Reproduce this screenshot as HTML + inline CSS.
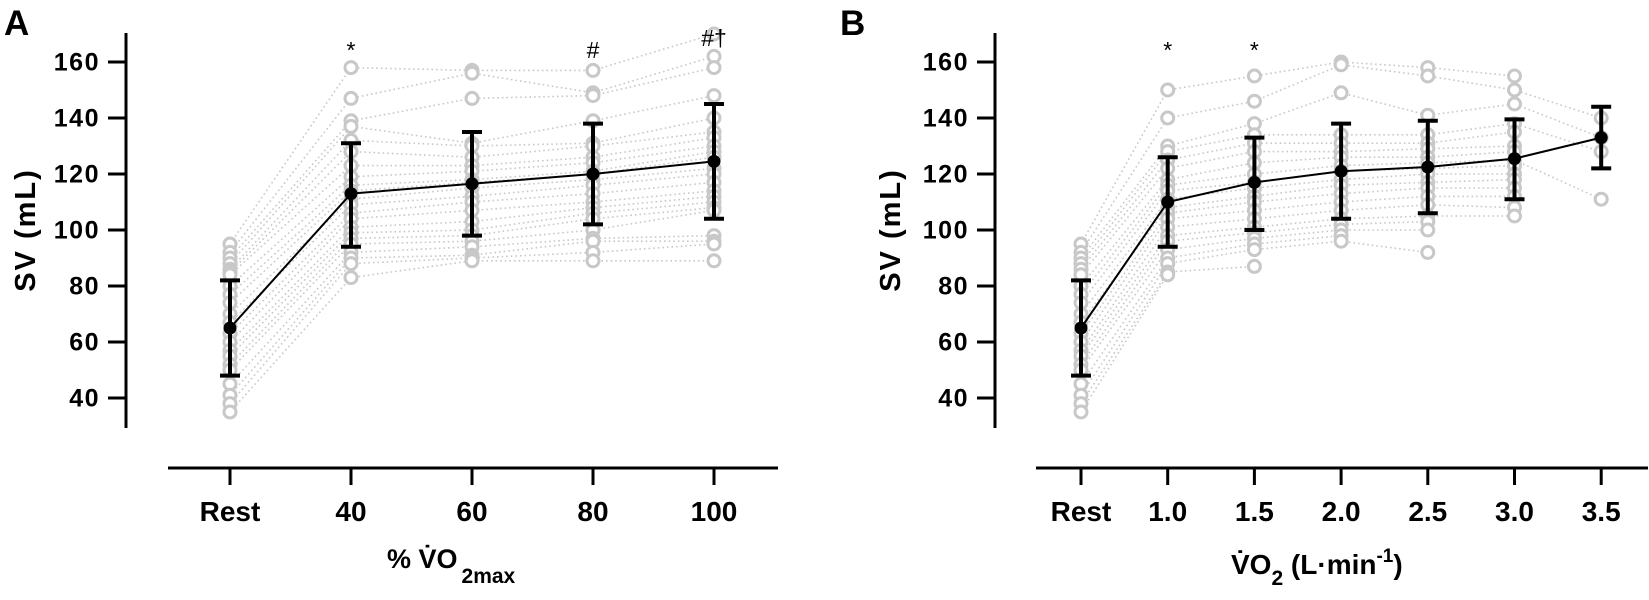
<!DOCTYPE html>
<html><head><meta charset="utf-8"><style>
html,body{margin:0;padding:0;background:#fff;}
svg{display:block;font-family:"Liberation Sans",Arial,sans-serif;}
</style></head><body>
<svg id="chart" width="1649" height="600" viewBox="0 0 1649 600" style="position:absolute;left:0;top:0">
<g id="root"></g>
</svg>
<script>
// Panel A data
const catsA = ["Rest","40","60","80","100"];
const meanA = [65,113,116.5,120,124.5];
const loA = [48,94,98,102,104];
const hiA = [82,131,135,138,145];
const subjA = [
 [95,158,157,157,170],[92,147,156,149,162],[90,139,147,148,158],[88,137,131,139,148],
 [86,132,130,131,140],[85,128,126,130,135],[84,123,123,126,133],[80,119,121,124,130],
 [77,116,118,121,128],[74,114,117,120,126],[70,111,115,118,122],[67,109,112,116,120],
 [63,106,110,113,117],[60,104,107,110,114],[57,101,103,108,112],[55,99,100,106,110],
 [52,97,98,104,108],[50,95,96,100,107],[45,92,94,97,98],[41,90,91,96,96],
 [38,88,90,92,95],[35,83,89,89,89]
];
const tagsA = ["","*","","#","#\u2020"];
// Panel B data
const catsB = ["Rest","1.0","1.5","2.0","2.5","3.0","3.5"];
const meanB = [65,110,117,121,122.5,125.5,133];
const loB = [48,94,100,104,106,111,122];
const hiB = [82,126,133,138,139,139.5,144];
const subjB = [
 [95,150,155,160,158,155,null],[92,140,146,159,155,150,140],[90,130,138,149,141,145,133],
 [88,128,134,134,134,138,128],[86,125,131,131,131,135,null],[84,122,128,128,129,130,null],
 [80,118,124,126,126,128,null],[77,116,120,123,124,125,111],[74,114,117,121,122,123,null],
 [70,111,115,118,120,120,null],[67,108,112,116,117,118,null],[63,106,110,113,115,115,null],
 [60,104,107,110,112,112,null],[57,101,104,107,109,108,null],[55,98,101,104,105,105,null],
 [52,96,99,102,103,null,null],[50,93,97,100,100,null,null],[45,90,95,98,null,null,null],
 [41,88,93,96,92,null,null],[38,85,87,null,null,null,null],[35,84,null,null,null,null,null]
];
const tagsB = ["","*","*","","","",""];
const yTicks = [40,60,80,100,120,140,160];

const NS="http://www.w3.org/2000/svg";
const root=document.getElementById('root');
function mk(tag,attrs,parent){const e=document.createElementNS(NS,tag);for(const k in attrs)e.setAttribute(k,attrs[k]);(parent||root).appendChild(e);return e;}
function yS(v){return 62+(160-v)*2.8;}

function panel(cfg){
 const g=mk('g',{});
 
 
 const xS=i=>cfg.x0+i*cfg.dx;
 const ya=mk('line',{x1:cfg.yAxisX,y1:33,x2:cfg.yAxisX,y2:428,stroke:'#000','stroke-width':3},g);
 
 
 const xa=mk('line',{x1:cfg.xa0,y1:468,x2:cfg.xa1,y2:468,stroke:'#000','stroke-width':3},g);
 
 
 yTicks.forEach(t=>{
  mk('line',{x1:cfg.yAxisX-18,y1:yS(t),x2:cfg.yAxisX,y2:yS(t),stroke:'#000','stroke-width':3},g);
  const tx=mk('text',{x:cfg.yAxisX-26,y:yS(t)+8.5,'text-anchor':'end','font-size':25,'font-weight':'bold','letter-spacing':1.5},g);
  tx.textContent=t;
  
  
 });
 cfg.cats.forEach((c,i)=>{
  mk('line',{x1:xS(i),y1:468,x2:xS(i),y2:485,stroke:'#000','stroke-width':3},g);
  const tx=mk('text',{x:xS(i),y:521,'text-anchor':'middle','font-size':28,'font-weight':'bold'},g);
  tx.textContent=c;
  
  
 });
 cfg.subj.forEach(s=>{
  const pts=[];s.forEach((v,i)=>{if(v!=null)pts.push(xS(i)+','+yS(v));});
  const pl=mk('polyline',{points:pts.join(' '),fill:'none',stroke:'#c8c8c8','stroke-width':1.6,'stroke-dasharray':'1.6,3'},g);
  
  
 });
 cfg.subj.forEach(s=>{s.forEach((v,i)=>{if(v==null)return;
  const c=mk('circle',{cx:xS(i),cy:yS(v),r:6,fill:'#fff',stroke:'#c8c8c8','stroke-width':3},g);
  
  
 });});
 const ml=mk('polyline',{points:cfg.mean.map((v,i)=>xS(i)+','+yS(v)).join(' '),fill:'none',stroke:'#000','stroke-width':2},g);
 
 
 cfg.mean.forEach((v,i)=>{
  const x=xS(i);
  const eb=mk('path',{d:`M${x},${yS(cfg.lo[i])}V${yS(cfg.hi[i])}M${x-10},${yS(cfg.lo[i])}H${x+10}M${x-10},${yS(cfg.hi[i])}H${x+10}`,stroke:'#000','stroke-width':4,fill:'none'},g);
  
  
  const c=mk('circle',{cx:x,cy:yS(v),r:6.5,fill:'#000'},g);
  
  
  if(cfg.tags[i]){
   const t=mk('text',{x:x,y:cfg.tags[i].length>1?46:58,'text-anchor':'middle','font-size':23},g);
   t.textContent=cfg.tags[i];
   
   
  }
 });
}
panel({name:'panel-a',x0:230,dx:121,yAxisX:126,xa0:168,xa1:778,cats:catsA,mean:meanA,lo:loA,hi:hiA,subj:subjA,tags:tagsA});
panel({name:'panel-b',x0:1081,dx:86.7,yAxisX:995,xa0:1036,xa1:1648,cats:catsB,mean:meanB,lo:loB,hi:hiB,subj:subjB,tags:tagsB});
</script>
<svg width="1649" height="600" style="position:absolute;left:0;top:0;font-family:'Liberation Sans',Arial,sans-serif;font-weight:bold">
<text x="4" y="35" font-size="35">A</text>
<text x="840" y="35" font-size="35">B</text>
<text transform="translate(35,230) rotate(-90)" text-anchor="middle" font-size="29" letter-spacing="2">SV (mL)</text>
<text transform="translate(900,230) rotate(-90)" text-anchor="middle" font-size="29" letter-spacing="2">SV (mL)</text>
<text x="387" y="568" font-size="27">% V&#775;O<tspan font-size="21" dx="4" dy="15">2max</tspan></text>
<text x="1231" y="574" font-size="28">V&#775;O<tspan font-size="21" dy="11">2</tspan><tspan dy="-11"> (L·min</tspan><tspan font-size="19" dy="-12">-1</tspan><tspan dy="12">)</tspan></text>
</svg>
</body></html>
